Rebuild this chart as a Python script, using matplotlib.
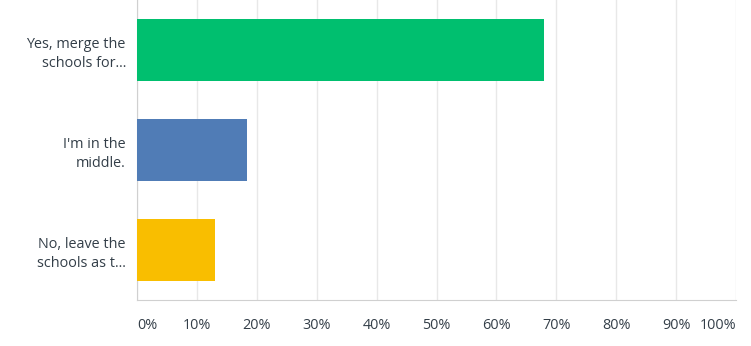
import matplotlib.pyplot as plt
import numpy as np

plt.rcParams['font.family'] = ['Open Sans', 'DejaVu Sans']

# data
answers = ['Yes, merge the\nschools for...', "I'm in the\nmiddle.", 'No, leave the\nschools as t...']
percents = [68.0, 18.4, 13.0]
colors = ['#00BF6F', '#507CB6', '#F9BE00']
ticks = [0, 10, 20, 30, 40, 50, 60, 70, 80, 90, 100]
tick_labels = [str(t) + '%' for t in ticks]

fig = plt.figure(figsize=(7.51, 3.46), dpi=100)
ax = fig.add_axes([137 / 751, 46 / 346, 599 / 751, 300 / 346])

y = np.arange(len(answers))
ax.barh(y, percents, height=0.62, color=colors, zorder=3)

ax.set_xlim(0, 100)
ax.set_ylim(2.5, -0.5)
ax.set_xticks(ticks)
ax.set_xticklabels(tick_labels, fontsize=10.4, color='#333e48')
ax.set_yticks(y)
ax.set_yticklabels(answers, fontsize=10.4, color='#333e48', linespacing=1.4)
ax.tick_params(axis='both', length=0)
ax.tick_params(axis='x', pad=13)
ax.tick_params(axis='y', pad=8)

xl = ax.get_xticklabels()
xl[0].set_horizontalalignment('left')
xl[-1].set_horizontalalignment('right')

ax.grid(axis='x', color='#e8e8e8', linewidth=1, zorder=0)
for s in ['top', 'right']:
    ax.spines[s].set_visible(False)
ax.spines['left'].set_color('#d0d0d0')
ax.spines['bottom'].set_color('#d0d0d0')

fig.savefig('out.png', dpi=100)
